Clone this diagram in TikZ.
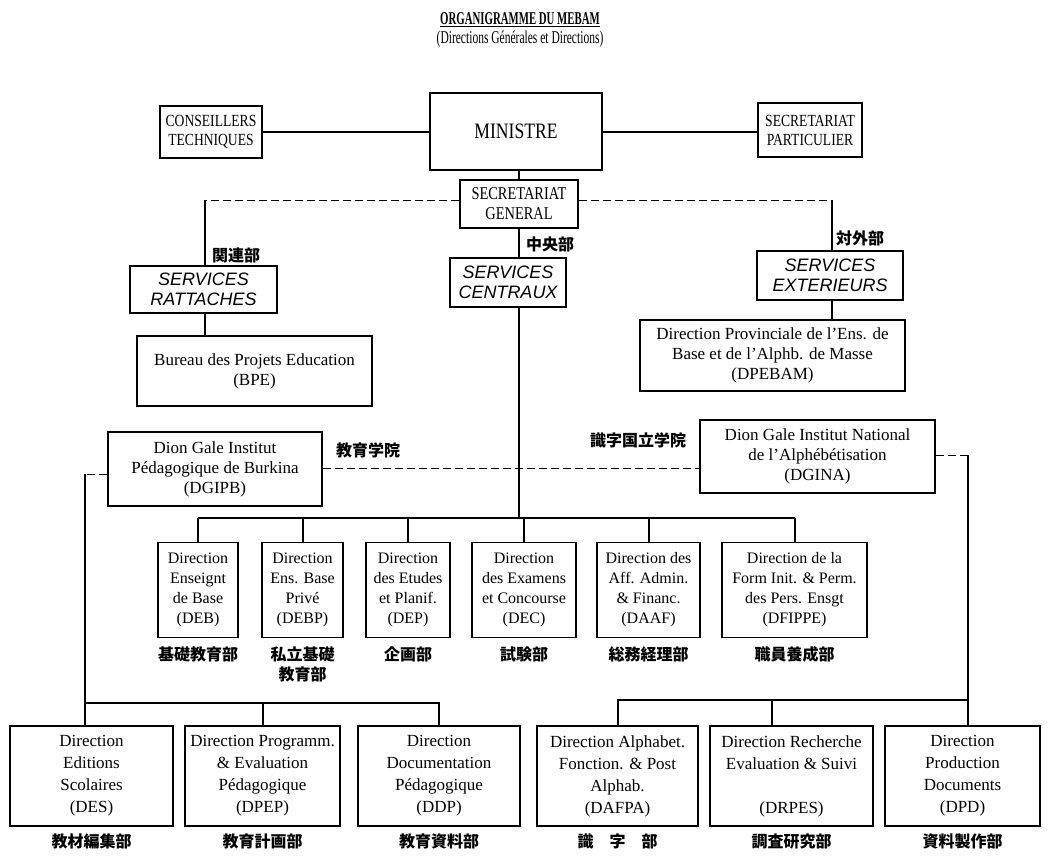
\documentclass[tikz,border=0pt]{standalone}
\usepackage{fontspec}
\setmainfont{Liberation Serif}
\newfontfamily\titlefont{Liberation Serif}[FakeStretch=0.6]
\newfontfamily\subfont{Liberation Serif}[FakeStretch=0.64]
\newfontfamily\capfont{Liberation Serif}[FakeStretch=0.8]
\newfontfamily\servfont{Liberation Sans}
\newfontfamily\jpfont{Noto Sans CJK JP}
\begin{document}
\begin{tikzpicture}[x=1pt,y=-1pt,
  box/.style={draw, line width=1.5pt, align=center, inner sep=1pt, font=\fontsize{17}{20}\selectfont},
  capbox/.style={box, font=\capfont\fontsize{17}{19}\selectfont},
  servbox/.style={box, font=\servfont\itshape\fontsize{18}{20}\selectfont},
  midbox/.style={box, font=\fontsize{16}{20}\selectfont},
  lowbox/.style={box, font=\fontsize{17}{22}\selectfont},
  sz/.style 2 args={minimum width=#1, minimum height=#2},
  conn/.style={line width=2pt},
  dsh/.style={line width=1pt, dash pattern=on 8pt off 4pt},
  jp/.style={font=\jpfont\bfseries\fontsize{16}{20}\selectfont, align=center, inner sep=1pt},
]
\fill[white] (0,0) rectangle (1048,855);
\useasboundingbox (0,0) rectangle (1048,855);

% titles
\node[font=\titlefont\bfseries\fontsize{18}{20}\selectfont] (title) at (520,20) {\underline{ORGANIGRAMME DU MEBAM}};
\node[font=\subfont\fontsize{18}{20}\selectfont] (subtitle) at (520,39) {(Directions Générales et Directions)};

% top row
\node[capbox, sz={102}{52}] (cons) at (211,132) {CONSEILLERS\\TECHNIQUES};
\node[box, sz={172}{77}, font=\capfont\fontsize{22}{24}\selectfont] (min) at (516,131.5) {MINISTRE};
\node[capbox, sz={104}{54}] (secp) at (810,130) {SECRETARIAT\\PARTICULIER};
\node[capbox, sz={118}{48}, font=\capfont\fontsize{18}{20}\selectfont] (sg) at (519,204) {SECRETARIAT\\GENERAL};

% services
\node[servbox, sz={147}{47}] (sr) at (203.5,289.5) {SERVICES\\RATTACHES};
\node[servbox, sz={116}{49}] (sc) at (508,282.5) {SERVICES\\CENTRAUX};
\node[servbox, sz={146}{49}] (se) at (830,275.5) {SERVICES\\EXTERIEURS};

\node[box, sz={235}{70}] (bpe) at (254.5,371) {Bureau des Projets Education\\(BPE)};
\node[box, sz={265}{71}] (dpebam) at (772.5,355.5) {Direction Provinciale de l'Ens. de\\Base et de l'Alphb. de Masse\\(DPEBAM)};

\node[box, sz={214}{74}] (dgipb) at (215,469) {Dion Gale Institut\\Pédagogique de Burkina\\(DGIPB)};
\node[box, sz={235}{73}] (dgina) at (817.5,456.5) {Dion Gale Institut National\\de l'Alphébétisation\\(DGINA)};

% middle row
\node[midbox, sz={80}{95}] (deb) at (198,590) {Direction\\Enseignt\\de Base\\(DEB)};
\node[midbox, sz={81}{95}] (debp) at (302.5,590) {Direction\\Ens. Base\\Privé\\(DEBP)};
\node[midbox, sz={84}{95}] (dep) at (408,590) {Direction\\des Etudes\\et Planif.\\(DEP)};
\node[midbox, sz={104}{95}] (dec) at (524,590) {Direction\\des Examens\\et Concourse\\(DEC)};
\node[midbox, sz={103}{95}] (daaf) at (648.5,590) {Direction des\\Aff. Admin.\\\& Financ.\\(DAAF)};
\node[midbox, sz={145}{95}] (dfippe) at (794.5,590) {Direction de la\\Form Init. \& Perm.\\des Pers. Ensgt\\(DFIPPE)};

% bottom row
\node[lowbox, sz={163}{100}] (des) at (91.5,776) {Direction\\Editions\\Scolaires\\(DES)};
\node[lowbox, sz={155}{100}] (dpep) at (262.5,776) {Direction Programm.\\\& Evaluation\\Pédagogique\\(DPEP)};
\node[lowbox, sz={162}{100}] (ddp) at (439,776) {Direction\\Documentation\\Pédagogique\\(DDP)};
\node[lowbox, sz={161}{100}] (dafpa) at (617.5,776) {Direction Alphabet.\\Fonction. \& Post\\Alphab.\\(DAFPA)};
\node[lowbox, sz={163}{100}] (drpes) at (791.5,776) {Direction Recherche\\Evaluation \& Suivi\\~\\(DRPES)};
\node[lowbox, sz={155}{100}] (dpd) at (962.5,776) {Direction\\Production\\Documents\\(DPD)};

% Japanese labels
\node[jp] (jsr) at (236,255) {関連部};
\node[jp] (jsc) at (550,244) {中央部};
\node[jp] (jse) at (860,238) {対外部};
\node[jp] (jdgipb) at (368,450) {教育学院};
\node[jp] (jdgina) at (638,440) {識字国立学院};
\node[jp, anchor=north] (jdeb) at ([yshift=-7pt]deb.south) {基礎教育部};
\node[jp, anchor=north] (jdebp) at ([yshift=-7pt]debp.south) {私立基礎\\教育部};
\node[jp, anchor=north] (jdep) at ([yshift=-7pt]dep.south) {企画部};
\node[jp, anchor=north] (jdec) at ([yshift=-7pt]dec.south) {試験部};
\node[jp, anchor=north] (jdaaf) at ([yshift=-7pt]daaf.south) {総務経理部};
\node[jp, anchor=north] (jdfippe) at ([yshift=-7pt]dfippe.south) {職員養成部};
\node[jp, anchor=north] (jdes) at ([yshift=-6pt]des.south) {教材編集部};
\node[jp, anchor=north] (jdpep) at ([yshift=-6pt]dpep.south) {教育計画部};
\node[jp, anchor=north] (jddp) at ([yshift=-6pt]ddp.south) {教育資料部};
\node[jp, anchor=north] (jdafpa) at ([yshift=-6pt]dafpa.south) {識　字　部};
\node[jp, anchor=north] (jdrpes) at ([yshift=-6pt]drpes.south) {調査研究部};
\node[jp, anchor=north] (jdpd) at ([yshift=-6pt]dpd.south) {資料製作部};

% coordinates
\coordinate (srk) at (205,200);
\coordinate (sek) at (832,200);
\coordinate (mb) at (519,518);
\coordinate (dy) at (500,468);
\coordinate (lk) at (85,474);
\coordinate (lb) at (85,703);
\coordinate (rk) at (968,455);
\coordinate (rb) at (968,700);

% connectors top
\draw[conn] (cons.east) -- (cons.east -| min.west);
\draw[conn] (min.east) -- (min.east -| secp.west);
\draw[conn] (sg.north) -- (sg.north |- min.south);
\draw[conn] (sg.south) -- (sg.south |- sc.north);
\draw[dsh] (sg.west |- srk) -- (srk);
\draw[conn] (srk) -- (srk |- sr.north);
\draw[dsh] (sg.east |- sek) -- (sek);
\draw[conn] (sek) -- (sek |- se.north);
\draw[conn] (sr.south -| srk) -- (srk |- bpe.north);
\draw[conn] (se.south -| sek) -- (sek |- dpebam.north);

% central line and middle bus
\draw[conn] (sc.south -| mb) -- (mb);
\draw[conn] (deb.north |- mb) -- (dfippe.north |- mb);
\foreach \n in {deb,debp,dep,dec,daaf,dfippe}{
  \draw[conn] (\n.north) -- (\n.north |- mb);
}

% institutes
\draw[dsh] (dgipb.east |- dy) -- (dgina.west |- dy);
\draw[dsh] (dgipb.west |- lk) -- (lk);
\draw[conn] (lk) -- (lk |- des.north);
\draw[conn] (lb) -| (ddp.north);
\draw[conn] (dpep.north) -- (dpep.north |- lb);
\draw[dsh] (dgina.east |- rk) -- (rk);
\draw[conn] (rk) -- (rk |- dpd.north);
\draw[conn] (rb) -| (dafpa.north);
\draw[conn] ([xshift=-19.5pt]drpes.north) -- ([xshift=-19.5pt]drpes.north |- rb);
\end{tikzpicture}
\end{document}
